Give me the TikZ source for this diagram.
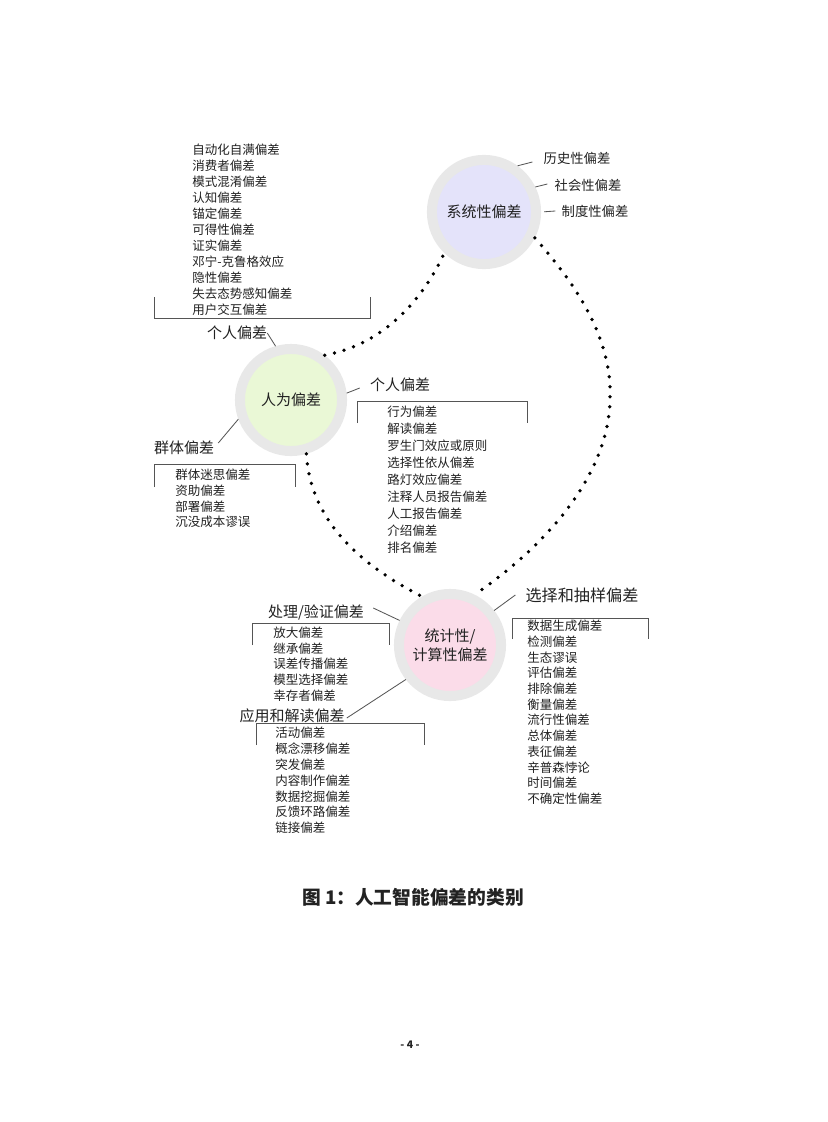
\documentclass[tikz,border=0pt]{standalone}
\usepackage{fontspec}
\setmainfont{Noto Sans CJK SC}
\usetikzlibrary{calc}
\definecolor{cring}{HTML}{E8E8E8}
\definecolor{cviolet}{HTML}{E4E3FA}
\definecolor{cgreen}{HTML}{EAF8D6}
\definecolor{cpink}{HTML}{FBDCE9}
\definecolor{cink}{HTML}{222222}
\definecolor{cline}{HTML}{555555}
\tikzset{
  every picture/.style={x=0.72pt, y=-0.72pt},
  hub/.style={circle, draw=cring, fill=#1, line width=7.2pt, minimum size=73.5pt, inner sep=0pt, align=center, text=cink, font=\fontsize{10.8}{13.7}\selectfont},
  tag/.style={inner sep=0pt, text=cink, font=\fontsize{10.8}{13}\selectfont},
  sidetag/.style={inner sep=0pt, text=cink, font=\fontsize{9.6}{12}\selectfont},
  items/.style={inner sep=0pt, anchor=north west, align=left, text=cink, font=\fontsize{9}{#1}\selectfont},
  items/.default=11.5pt,
  leader/.style={draw=cline, line width=0.6pt},
  bracket/.style={draw=cline, line width=0.7pt},
  dots/.style={draw=black, line width=2.7pt, line cap=round, dash pattern=on 0pt off 7.2pt},
}
\begin{document}
\begin{tikzpicture}
  \useasboundingbox[fill=white] (0,0) rectangle (827,1122);
  \node[hub=cviolet, minimum size=75pt] (sys) at (484,212) {系统性偏差};
  \node[hub=cgreen] (hum) at (291,400) {人为偏差};
  \node[hub=cpink] (sta) at (450,645) {统计性/\\计算性偏差};
  \draw[dots] (hum.53) .. controls (380,345) and (420,305) .. (sys.226);
  \draw[dots] (sys.333) .. controls (590,300) and (612,350) .. (610,400) .. controls (608,480) and (540,550) .. (sta.64);
  \draw[dots] (hum.286) .. controls (310,520) and (360,565) .. (sta.120);
  % systemic
  \node[sidetag] (hist) at (577,158) {历史性偏差};
  \node[sidetag] (soc) at (588,185) {社会性偏差};
  \node[sidetag] (inst) at (595,211) {制度性偏差};
  \draw[leader] (sys.54) -- ($(hist.west)+(-11,4)$);
  \draw[leader] (sys.26) -- ($(soc.west)+(-7,-1)$);
  \draw[leader, shorten <=2.2pt] (sys.0) -- ($(inst.west)+(-6,0)$);
  % human
  \node[items] (indlist) at (192,144) {自动化自满偏差\\消费者偏差\\模式混淆偏差\\认知偏差\\锚定偏差\\可得性偏差\\证实偏差\\邓宁-克鲁格效应\\隐性偏差\\失去态势感知偏差\\用户交互偏差};
  \draw[bracket] (154,297) -- (154,318) -- (370,318) -- (370,297);
  \node[tag] (ind1) at (237,333) {个人偏差};
  \draw[leader] (ind1.east) -- (hum.106);
  \node[tag] (ind2) at (400,385) {个人偏差};
  \draw[leader] (hum.7) -- ($(ind2.west)+(-10,3)$);
  \draw[bracket] (357,423) -- (357,401) -- (527,401) -- (527,423);
  \node[items=12.2pt] (indlist2) at (387,406) {行为偏差\\解读偏差\\罗生门效应或原则\\选择性依从偏差\\路灯效应偏差\\注释人员报告偏差\\人工报告偏差\\介绍偏差\\排名偏差};
  \node[tag] (grp) at (184,448) {群体偏差};
  \draw[leader] (hum.200) -- ($(grp.east)+(4,-5)$);
  \draw[bracket] (154,487) -- (154,464) -- (295,464) -- (295,487);
  \node[items=11.3pt] (grplist) at (175,469) {群体迷思偏差\\资助偏差\\部署偏差\\沉没成本谬误};
  % statistical
  \node[tag] (proc) at (316,612) {处理/验证偏差};
  \draw[leader] (sta.154) -- ($(proc.east)+(9,-4)$);
  \draw[bracket] (252,645) -- (252,623) -- (389,623) -- (389,645);
  \node[items=11.2pt] (proclist) at (273,627) {放大偏差\\继承偏差\\误差传播偏差\\模型选择偏差\\幸存者偏差};
  \node[tag] (use) at (292,716) {应用和解读偏差};
  \draw[leader] (sta.218) -- ($(use.east)+(2,2)$);
  \draw[bracket] (256,745) -- (256,723) -- (424,723) -- (424,745);
  \node[items=11.4pt] (uselist) at (275,727) {活动偏差\\概念漂移偏差\\突发偏差\\内容制作偏差\\数据挖掘偏差\\反馈环路偏差\\链接偏差};
  \node[tag, font=\fontsize{11.6}{14}\selectfont] (sel) at (582,595) {选择和抽样偏差};
  \draw[leader] (sta.38) -- ($(sel.west)+(-10,0)$);
  \draw[bracket] (512,639) -- (512,618) -- (648,618) -- (648,639);
  \node[items=11.3pt] (sellist) at (527,620) {数据生成偏差\\检测偏差\\生态谬误\\评估偏差\\排除偏差\\衡量偏差\\流行性偏差\\总体偏差\\表征偏差\\辛普森悖论\\时间偏差\\不确定性偏差};
  % caption
  \node[font=\fontsize{13.5}{16}\selectfont\bfseries, text=cink] (cap) at (413,897) {图 1：人工智能偏差的类别};
  \node[font=\fontsize{7.5}{9}\selectfont\bfseries, text=cink] (page) at (410,1045) {- 4 -};
\end{tikzpicture}
\end{document}
